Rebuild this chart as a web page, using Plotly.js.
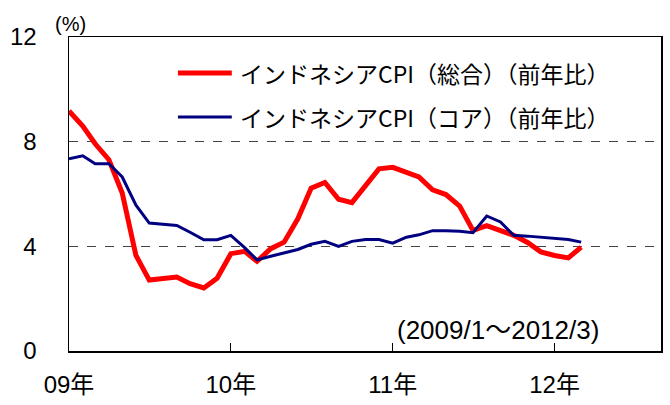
<!DOCTYPE html>
<html>
<head>
<meta charset="utf-8">
<script src="https://cdn.plot.ly/plotly-3.0.1.min.js"></script>
<style>html,body{margin:0;padding:0;background:#fff;}#chart{width:670px;height:405px;}</style>
</head>
<body>
<div id="chart"></div>
<script>
// Monthly, 2009/1 .. 2012/3
const startYear = 2009, nMonths = 39;
const months = [];
for (let i = 0; i < nMonths; i++) {
  const y = startYear + Math.floor(i / 12), m = (i % 12) + 1;
  months.push(y + '-' + String(m).padStart(2, '0') + '-01');
}
const headlineCPI = [9.17, 8.60, 7.92, 7.31, 6.04, 3.65, 2.71, 2.75, 2.83, 2.57, 2.41, 2.78,
                     3.72, 3.81, 3.43, 3.91, 4.16, 5.05, 6.22, 6.44, 5.80, 5.67, 6.33, 6.96,
                     7.02, 6.84, 6.65, 6.16, 5.98, 5.54, 4.61, 4.79, 4.61, 4.42, 4.15, 3.79,
                     3.65, 3.56, 3.97];
const coreCPI = [7.35, 7.46, 7.16, 7.16, 6.65, 5.57, 4.89, 4.85, 4.80, 4.54, 4.25, 4.25,
                 4.42, 3.95, 3.48, 3.62, 3.75, 3.88, 4.08, 4.19, 4.00, 4.19, 4.26, 4.26,
                 4.12, 4.35, 4.44, 4.60, 4.60, 4.58, 4.52, 5.16, 4.93, 4.42, 4.39, 4.35,
                 4.28, 4.26, 4.16];
const seriesNames = ['インドネシアCPI（総合）（前年比）', 'インドネシアCPI（コア）（前年比）'];
const xTickVals = ['2009-01-01', '2010-01-01', '2011-01-01', '2012-01-01'];
const xTickText = ['09年', '10年', '11年', '12年'];
const yTickVals = [0, 4, 8, 12];
const unitLabel = '(%)';
const periodLabel = '(2009/1～2012/3)';

const RED = '#ff0000', NAVY = '#000080';
const numFont = 'Liberation Sans, Arial, Noto Sans CJK JP, sans-serif';
const jpFont = 'Noto Sans CJK JP, sans-serif';

const traces = [
  {x: months, y: headlineCPI, type: 'scatter', mode: 'lines', name: seriesNames[0],
   line: {color: RED, width: 5}, showlegend: false},
  {x: months, y: coreCPI, type: 'scatter', mode: 'lines', name: seriesNames[1],
   line: {color: NAVY, width: 3}, showlegend: false}
];

const legY = [0.885, 0.745];
const layout = {
  width: 670, height: 405,
  margin: {l: 69, r: 9, t: 37, b: 54},
  paper_bgcolor: '#fff', plot_bgcolor: '#fff',
  xaxis: {
    type: 'date', range: ['2009-01-01', '2012-08-28'],
    tickvals: xTickVals, ticktext: xTickText,
    ticks: 'inside', ticklen: 8, tickwidth: 1, tickcolor: '#000',
    showgrid: false, zeroline: false,
    showline: true, linecolor: '#000', linewidth: 1.5, mirror: true,
    tickfont: {family: numFont, size: 24, color: '#000'},
    ticklabelstandoff: 12
  },
  yaxis: {
    range: [0, 12], tickvals: yTickVals, ticks: '',
    showgrid: true, gridcolor: '#444', griddash: 'dash', gridwidth: 1,
    zeroline: false,
    showline: true, linecolor: '#000', linewidth: 1.5, mirror: true,
    tickfont: {family: numFont, size: 24, color: '#000'},
    ticklabelstandoff: 26
  },
  shapes: [
    {type: 'line', xref: 'paper', yref: 'paper', x0: 0.184, x1: 0.275, y0: legY[0], y1: legY[0],
     line: {color: RED, width: 5}},
    {type: 'line', xref: 'paper', yref: 'paper', x0: 0.184, x1: 0.275, y0: legY[1], y1: legY[1],
     line: {color: NAVY, width: 3}}
  ],
  annotations: [
    {xref: 'paper', yref: 'paper', x: 0.2855, y: legY[0], xanchor: 'left', yanchor: 'middle',
     text: seriesNames[0], showarrow: false, font: {family: jpFont, size: 23, color: '#000'}},
    {xref: 'paper', yref: 'paper', x: 0.2855, y: legY[1], xanchor: 'left', yanchor: 'middle',
     text: seriesNames[1], showarrow: false, font: {family: jpFont, size: 23, color: '#000'}},
    {xref: 'paper', yref: 'paper', x: 0.0017, y: 1.041, xanchor: 'center', yanchor: 'middle',
     text: unitLabel, showarrow: false, font: {family: numFont, size: 20, color: '#000'}},
    {xref: 'paper', yref: 'paper', x: 0.5507, y: 0.067, xanchor: 'left', yanchor: 'middle',
     text: periodLabel, showarrow: false, font: {family: numFont, size: 26, color: '#000'}}
  ]
};

Plotly.newPlot('chart', traces, layout, {staticPlot: true, displayModeBar: false});
</script>
</body>
</html>
